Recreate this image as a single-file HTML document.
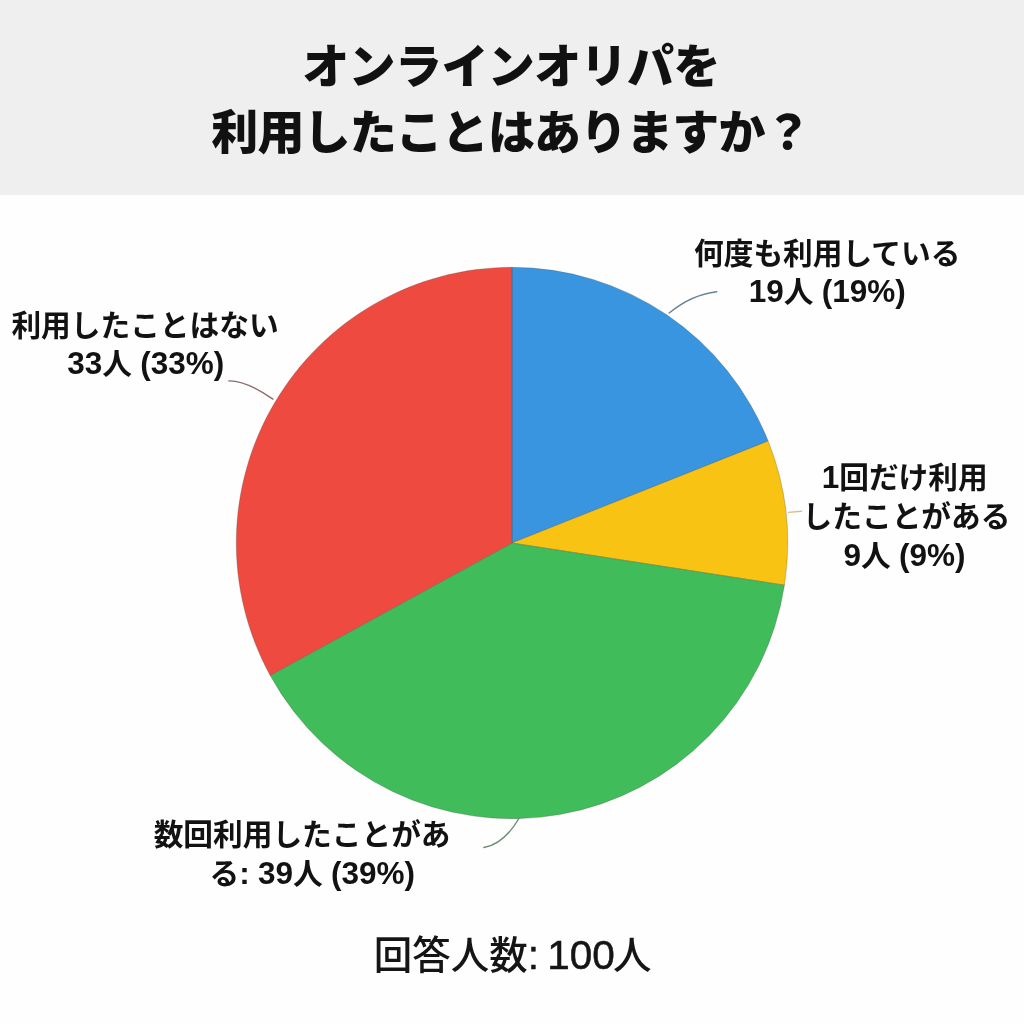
<!DOCTYPE html>
<html lang="ja">
<head>
<meta charset="utf-8">
<title>オンラインオリパを利用したことはありますか？</title>
<style>
html,body{margin:0;padding:0;}
body{width:1024px;height:1024px;overflow:hidden;background:#fefefe;position:relative;
 font-family:"Liberation Sans","Noto Sans CJK JP",sans-serif;color:#111;}
.header{position:absolute;left:0;top:0;width:1024px;height:195px;background:#efefef;}
.title{position:absolute;text-align:center;font-weight:900;font-size:47px;line-height:62px;white-space:nowrap;color:#111;transform:translateX(-50%);}
.t1{top:36px;left:511px;letter-spacing:-0.6px;}
.t2{top:102px;left:511px;letter-spacing:-0.9px;}
svg.chart{position:absolute;left:0;top:0;}
.ln{position:absolute;text-align:center;font-weight:700;font-size:29.7px;line-height:40px;white-space:nowrap;color:#121212;transform:translateX(-50%);}
.ln .n{font-size:31.5px;}
.foot{position:absolute;left:512.6px;top:927px;transform:translateX(-50%);text-align:center;font-weight:500;font-size:38.5px;line-height:56px;color:#151515;white-space:nowrap;}
.foot .p{margin-left:-2px;}
.foot .n{font-size:40.5px;word-spacing:-3px;-webkit-text-stroke:0.5px #151515;}
</style>
</head>
<body>
<div class="header"></div>
<div class="title t1">オンラインオリパを</div>
<div class="title t2">利用したことはありますか？</div>

<svg class="chart" width="1024" height="1024" viewBox="0 0 1024 1024">
  <g stroke="rgba(70,70,60,0.28)" stroke-width="1" stroke-linejoin="round">
    <path d="M512.0 543.0 L512.00 267.30 A275.7 275.7 0 0 1 768.16 441.06 Z" fill="#3a95e0"/>
    <path d="M512.0 543.0 L768.16 441.06 A275.7 275.7 0 0 1 784.45 585.18 Z" fill="#f9c314"/>
    <path d="M512.0 543.0 L784.45 585.18 A275.7 275.7 0 0 1 270.17 675.40 Z" fill="#40bc5a"/>
    <path d="M512.0 543.0 L270.17 675.40 A275.7 275.7 0 0 1 512.00 267.30 Z" fill="#ee4a40"/>
  </g>
  <g fill="none" stroke-width="1.4" stroke-linecap="round">
    <path d="M228.8 380.9 Q246 380.5 272.9 399.1" stroke="#8a6a69"/>
    <path d="M716.8 291.7 Q691.4 294.6 669.2 313" stroke="#6c8296"/>
    <path d="M788.5 512.4 L801.5 511.2" stroke="#d8c27a"/>
    <path d="M519.2 818 C511 832 500 845 483.9 847.5" stroke="#6b8b73"/>
  </g>
</svg>

<div class="ln" style="left:145px;top:306px;">利用したことはない</div>
<div class="ln" style="left:145.7px;top:343px;"><span class="n">33</span>人 <span class="n">(33%)</span></div>
<div class="ln" style="left:827.2px;top:234px;">何度も利用している</div>
<div class="ln" style="left:827.2px;top:271px;"><span class="n">19</span>人 <span class="n">(19%)</span></div>
<div class="ln" style="left:904.7px;top:456.5px;"><span class="n">1</span>回だけ利用</div>
<div class="ln" style="left:906.5px;top:497px;">したことがある</div>
<div class="ln" style="left:904.5px;top:534.5px;"><span class="n">9</span>人 <span class="n">(9%)</span></div>
<div class="ln" style="left:302.1px;top:814.5px;">数回利用したことがあ</div>
<div class="ln" style="left:312.3px;top:853px;">る<span class="n">:</span> <span class="n">39</span>人 <span class="n">(39%)</span></div>

<div class="foot">回答人数<span class="n">: 100</span><span class="p">人</span></div>
</body>
</html>
